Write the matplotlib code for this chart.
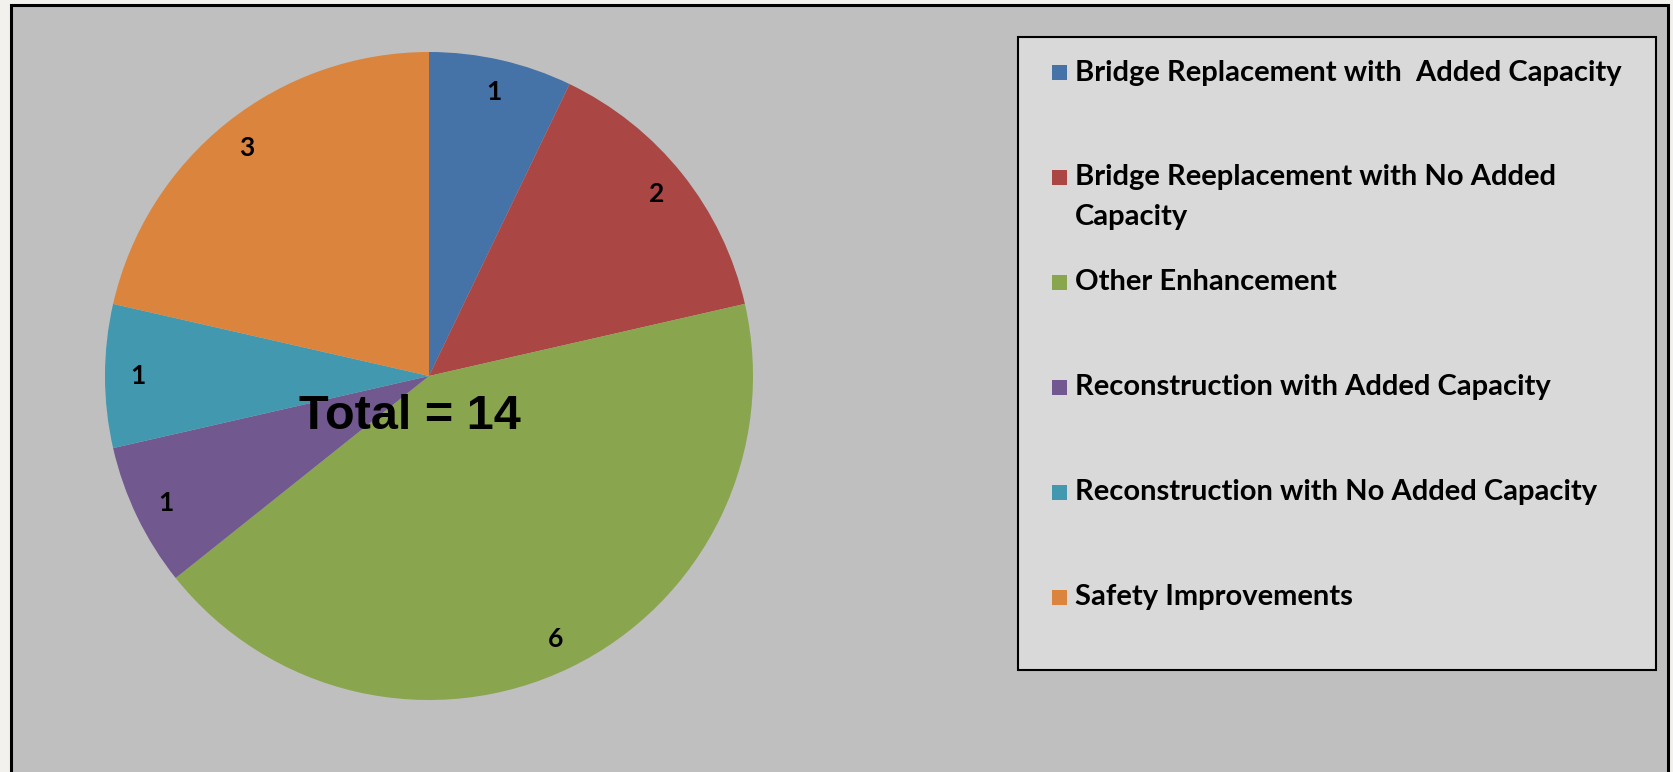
import matplotlib.pyplot as plt
from matplotlib.patches import Rectangle

# project counts by category
categories = ['Bridge Replacement with  Added Capacity',
              'Bridge Reeplacement with No Added\nCapacity',
              'Other Enhancement',
              'Reconstruction with Added Capacity',
              'Reconstruction with No Added Capacity',
              'Safety Improvements']
counts = [1, 2, 6, 1, 1, 3]
colors = ['#4572A7', '#AA4643', '#89A54E', '#71588F', '#4198AF', '#DB843D']
total_label = 'Total = ' + str(sum(counts))

W, H = 1673, 772
fig = plt.figure(figsize=(W / 100, H / 100), dpi=100, facecolor='#F3F1ED')

# chart area frame
fig.patches.append(Rectangle((11 / W, -0.02), (1668 - 11) / W, 1 - 5 / H + 0.02,
                             transform=fig.transFigure, facecolor='#BFBFBF',
                             edgecolor='black', linewidth=2.2, zorder=0))
# legend box
fig.patches.append(Rectangle((1018 / W, 1 - 670 / H), (1656 - 1018) / W, (670 - 37) / H,
                             transform=fig.transFigure, facecolor='#D9D9D9',
                             edgecolor='black', linewidth=1.5, zorder=1))

cx, cy, r = 429, 376, 324
ax = fig.add_axes([(cx - r) / W, (H - cy - r) / H, 2 * r / W, 2 * r / H])
ax.set_zorder(3)
tot = sum(counts)
wedges, texts, autotexts = ax.pie(counts, colors=colors, startangle=90, counterclock=False,
                                  autopct=lambda p: '%d' % round(p * tot / 100),
                                  pctdistance=0.9,
                                  textprops=dict(fontfamily='Lato', fontweight='bold',
                                                 fontsize=19, color='black'))
ax.set_xlim(-1, 1)
ax.set_ylim(-1, 1)
ax.text(-0.058, -0.125, total_label, ha='center', va='center', fontsize=35,
        fontweight='bold', fontfamily='Liberation Sans')

# legend entries, drawn by hand so the swatch sits on the first line
y0, step, line_gap = 72.6, 104.9, 39
for i, (lab, col) in enumerate(zip(categories, colors)):
    y = y0 + step * i
    fig.patches.append(Rectangle((1052 / W, 1 - (y + 7.5) / H), 15 / W, 15 / H,
                                 transform=fig.transFigure, facecolor=col,
                                 edgecolor='none', zorder=4))
    for k, line in enumerate(lab.split('\n')):
        fig.text(1075 / W, 1 - (y + line_gap * k) / H, line, ha='left', va='center',
                 fontsize=21, fontweight='bold', fontfamily='Lato', zorder=4)

fig.savefig('out.png', dpi=100, facecolor=fig.get_facecolor())
